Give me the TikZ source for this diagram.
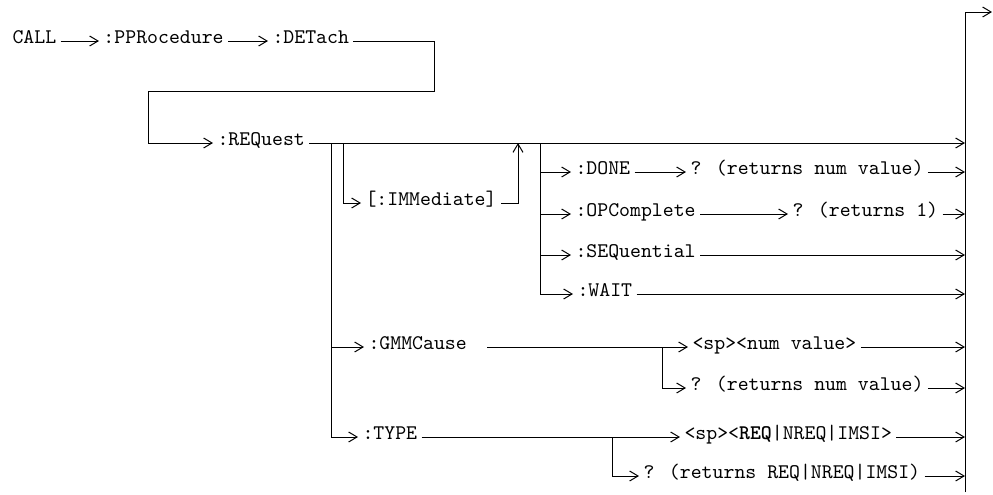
\documentclass[tikz,border=0pt]{standalone}
\usepackage{fontspec}
\usetikzlibrary{arrows.meta, positioning, calc}

\begin{document}
\begin{tikzpicture}[x=0.5pt, y=-0.5pt, line width=0.5pt,
    kw/.style={font=\ttfamily\fontsize{10.4}{11}\selectfont, inner xsep=2pt,
      inner ysep=0pt, text height=6pt, text depth=4pt, anchor=west},
    go/.style={-{Straight Barb[length=4.2pt, width=5pt]}}]
  \useasboundingbox (0,0) rectangle (993,494);
  % right rail
  \coordinate (railtop) at (965,12);
  \coordinate (railbot) at (965,492);
  \coordinate (out) at (992,12);
  \draw[go] (railbot) -- (railtop) -- (out);
  % first line
  \node[kw] (call) at (8,41) {CALL};
  \node[kw] (ppro) at (99,41) {:PPRocedure};
  \node[kw] (det) at (268,41) {:DETach};
  \draw[go] (call.east) -- (ppro.west);
  \draw[go] (ppro.east) -- (det.west);
  \coordinate (loopA) at (434,91);
  \coordinate (loopB) at (148,91);
  \node[kw] (req) at (213,143) {:REQuest};
  \draw[go] (det.east) -| (loopA) -- (loopB) |- (req.west);
  % REQuest branches
  \coordinate (j1) at (331,143);
  \coordinate (j2) at (343,143);
  \coordinate (back) at (518,143);
  \coordinate (j3) at (540,143);
  \node[kw] (imm) at (361,203) {[:IMMediate]};
  \draw[go] (j2) |- (imm.west);
  \draw[go] (imm.east) -| (back);
  \node[kw] (done) at (571,172) {:DONE};
  \node[kw] (doneq) at (686,172) {? (returns num value)};
  \node[kw] (opc) at (571,214) {:OPComplete};
  \node[kw] (opcq) at (788,214) {? (returns 1)};
  \node[kw] (seq) at (571,255) {:SEQuential};
  \node[kw] (wait) at (573,294) {:WAIT};
  \foreach \n in {done, opc, seq, wait}
    \draw[go] (j3) |- (\n.west);
  \draw[go] (done.east) -- (doneq.west);
  \draw[go] (opc.east) -- (opcq.west);
  % GMMCause and TYPE
  \node[kw] (gmm) at (364,347) {:GMMCause};
  \node[kw] (spnum) at (688,347) {<sp><num value>};
  \node[kw] (gmq) at (686,388) {? (returns num value)};
  \node[kw] (type) at (358,437) {:TYPE};
  \node[kw] (sptype) at (680,437) {<sp><\textbf{REQ}|NREQ|IMSI>};
  \node[kw] (typq) at (639,476) {? (returns REQ|NREQ|IMSI)};
  \foreach \n in {gmm, type}
    \draw[go] (j1) |- (\n.west);
  \coordinate (g1) at (662,347);
  \coordinate (t1) at (612,437);
  \draw[go, shorten <=8pt] (gmm.east) -- (spnum.west);
  \draw[go] (g1) |- (gmq.west);
  \draw[go] (type.east) -- (sptype.west);
  \draw[go] (t1) |- (typq.west);
  % into the rail
  \foreach \n in {req, doneq, opcq, seq, wait, spnum, gmq, sptype, typq}
    \draw[go] (\n.east) -- (\n.east -| railtop);
\end{tikzpicture}
\end{document}
